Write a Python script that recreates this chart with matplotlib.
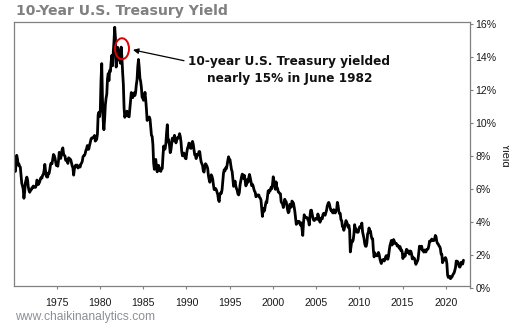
import matplotlib
matplotlib.use("Agg")
import matplotlib.pyplot as plt
from matplotlib.patches import Ellipse
import numpy as np

# ---- data: monthly 10-year U.S. Treasury yield (%) ----
years = list(range(1970, 2023))
monthly_yield = [
    [7.95, 7.30, 7.07, 7.45, 8.05, 7.84, 7.46, 7.53, 7.39, 7.33, 6.84, 6.35],   # 1970
    [6.20, 6.00, 5.45, 5.83, 6.39, 6.55, 6.73, 6.58, 6.14, 5.93, 5.81, 5.93],   # 1971
    [5.95, 6.08, 6.07, 6.19, 6.13, 6.11, 6.11, 6.21, 6.55, 6.48, 6.28, 6.36],   # 1972
    [6.46, 6.64, 6.71, 6.67, 6.85, 6.90, 7.13, 7.50, 7.09, 6.79, 6.73, 6.74],   # 1973
    [6.99, 6.96, 7.21, 7.51, 7.58, 7.54, 7.81, 8.10, 8.04, 7.90, 7.68, 7.43],   # 1974
    [7.50, 7.39, 7.73, 8.23, 8.06, 7.86, 8.06, 8.40, 8.50, 8.14, 8.05, 8.00],   # 1975
    [7.74, 7.79, 7.73, 7.56, 7.90, 7.86, 7.83, 7.77, 7.59, 7.41, 7.29, 6.85],   # 1976
    [7.21, 7.39, 7.46, 7.37, 7.46, 7.28, 7.33, 7.40, 7.34, 7.52, 7.58, 7.69],   # 1977
    [7.96, 8.03, 8.04, 8.15, 8.35, 8.46, 8.64, 8.41, 8.42, 8.64, 8.81, 9.01],   # 1978
    [9.10, 9.10, 9.12, 9.18, 9.25, 8.91, 8.95, 9.03, 9.33, 10.50, 10.65, 10.39], # 1979
    [10.80, 12.60, 13.60, 11.47, 10.18, 9.60, 10.25, 11.10, 11.51, 11.75, 12.68, 13.00], # 1980
    [12.57, 13.19, 13.12, 13.68, 14.10, 13.47, 14.28, 14.94, 15.80, 15.15, 13.39, 13.72], # 1981
    [14.59, 14.43, 13.86, 13.87, 13.62, 14.60, 13.95, 13.06, 12.34, 10.91, 10.35, 10.54], # 1982
    [10.46, 10.72, 10.51, 10.40, 10.38, 10.85, 11.38, 11.85, 11.65, 11.54, 11.69, 11.83], # 1983
    [11.67, 11.84, 12.32, 12.63, 13.41, 13.85, 13.36, 12.72, 12.52, 12.16, 11.57, 11.50], # 1984
    [11.38, 11.51, 11.86, 11.43, 10.85, 10.16, 10.31, 10.33, 10.37, 10.24, 9.78, 9.26],  # 1985
    [9.19, 8.70, 7.60, 7.20, 7.71, 7.80, 7.30, 7.05, 7.45, 7.43, 7.25, 7.11],   # 1986
    [7.08, 7.25, 7.25, 8.02, 8.61, 8.40, 8.45, 8.76, 9.42, 9.90, 8.86, 8.99],   # 1987
    [8.67, 8.21, 8.37, 8.72, 9.09, 8.92, 9.06, 9.26, 8.98, 8.80, 8.96, 9.11],   # 1988
    [9.09, 9.17, 9.36, 9.18, 8.86, 8.28, 8.02, 8.11, 8.19, 8.01, 7.87, 7.84],   # 1989
    [8.21, 8.47, 8.59, 8.79, 8.76, 8.48, 8.47, 8.75, 8.89, 8.72, 8.39, 8.08],   # 1990
    [8.09, 7.85, 8.11, 8.04, 8.07, 8.28, 8.27, 7.90, 7.65, 7.53, 7.42, 7.09],   # 1991
    [7.03, 7.34, 7.54, 7.48, 7.39, 7.26, 6.84, 6.59, 6.42, 6.59, 6.87, 6.77],   # 1992
    [6.60, 6.26, 5.98, 5.97, 6.04, 5.96, 5.81, 5.68, 5.36, 5.25, 5.72, 5.77],   # 1993
    [5.75, 5.97, 6.48, 6.97, 7.18, 7.10, 7.30, 7.24, 7.46, 7.74, 7.96, 7.81],   # 1994
    [7.78, 7.47, 7.20, 7.06, 6.63, 6.17, 6.28, 6.49, 6.20, 6.04, 5.93, 5.71],   # 1995
    [5.65, 5.81, 6.27, 6.51, 6.74, 6.91, 6.87, 6.64, 6.83, 6.53, 6.20, 6.30],   # 1996
    [6.58, 6.42, 6.69, 6.89, 6.71, 6.49, 6.22, 6.30, 6.21, 6.03, 5.88, 5.81],   # 1997
    [5.54, 5.57, 5.65, 5.64, 5.65, 5.50, 5.46, 5.34, 4.81, 4.35, 4.83, 4.65],   # 1998
    [4.72, 5.00, 5.23, 5.18, 5.54, 5.90, 5.79, 5.94, 5.92, 6.11, 6.03, 6.28],   # 1999
    [6.75, 6.52, 6.26, 5.99, 6.44, 6.10, 6.05, 5.83, 5.80, 5.74, 5.72, 5.24],   # 2000
    [5.16, 5.10, 4.89, 5.14, 5.39, 5.28, 5.24, 4.97, 4.73, 4.57, 4.65, 5.09],   # 2001
    [5.04, 4.91, 5.28, 5.21, 5.16, 4.93, 4.65, 4.26, 3.87, 3.94, 4.05, 4.03],   # 2002
    [4.05, 3.90, 3.81, 3.96, 3.57, 3.20, 3.98, 4.45, 4.27, 4.29, 4.30, 4.27],   # 2003
    [4.15, 4.08, 3.83, 4.35, 4.72, 4.73, 4.50, 4.28, 4.13, 4.10, 4.19, 4.23],   # 2004
    [4.22, 4.17, 4.50, 4.34, 4.14, 4.00, 4.18, 4.26, 4.20, 4.46, 4.54, 4.47],   # 2005
    [4.42, 4.57, 4.72, 4.99, 5.11, 5.20, 5.09, 4.88, 4.72, 4.73, 4.60, 4.56],   # 2006
    [4.76, 4.72, 4.56, 4.69, 4.75, 5.20, 5.00, 4.67, 4.52, 4.53, 4.15, 4.10],   # 2007
    [3.74, 3.74, 3.51, 3.68, 3.88, 4.10, 4.01, 3.89, 3.69, 3.81, 3.53, 2.20],   # 2008
    [2.52, 2.87, 2.82, 2.93, 3.29, 3.85, 3.56, 3.59, 3.40, 3.39, 3.40, 3.59],   # 2009
    [3.73, 3.69, 3.73, 3.95, 3.42, 3.20, 3.01, 2.70, 2.55, 2.54, 2.76, 3.29],   # 2010
    [3.39, 3.65, 3.41, 3.46, 3.17, 3.00, 3.00, 2.30, 1.90, 2.15, 2.01, 1.98],   # 2011
    [1.97, 1.97, 2.17, 2.05, 1.80, 1.62, 1.50, 1.68, 1.72, 1.75, 1.65, 1.72],   # 2012
    [1.91, 1.98, 1.96, 1.76, 1.93, 2.30, 2.58, 2.74, 2.90, 2.62, 2.72, 2.95],   # 2013
    [2.86, 2.71, 2.72, 2.71, 2.56, 2.60, 2.54, 2.42, 2.53, 2.30, 2.33, 2.21],   # 2014
    [1.80, 1.98, 2.04, 1.94, 2.20, 2.36, 2.32, 2.17, 2.17, 2.07, 2.26, 2.24],   # 2015
    [2.09, 1.78, 1.89, 1.81, 1.81, 1.64, 1.45, 1.56, 1.63, 1.76, 2.14, 2.55],   # 2016
    [2.43, 2.42, 2.55, 2.30, 2.30, 2.19, 2.32, 2.21, 2.20, 2.36, 2.35, 2.40],   # 2017
    [2.58, 2.86, 2.84, 2.87, 2.98, 2.91, 2.89, 2.89, 3.00, 3.20, 3.12, 2.83],   # 2018
    [2.71, 2.68, 2.57, 2.53, 2.40, 2.07, 2.06, 1.55, 1.70, 1.71, 1.81, 1.86],   # 2019
    [1.76, 1.50, 0.80, 0.66, 0.67, 0.73, 0.58, 0.65, 0.68, 0.79, 0.87, 0.93],   # 2020
    [1.08, 1.26, 1.65, 1.64, 1.62, 1.52, 1.32, 1.28, 1.37, 1.58, 1.56, 1.47],   # 2021
    [1.70],                                                                     # 2022
]

y_ticks = [0, 2, 4, 6, 8, 10, 12, 14, 16]
x_ticks = [1975, 1980, 1985, 1990, 1995, 2000, 2005, 2010, 2015, 2020]

title_text = "10-Year U.S. Treasury Yield"
note_text = "10-year U.S. Treasury yielded\nnearly 15% in June 1982"
note_date, note_yield = 1982.55, 14.5
watermark = "www.chaikinanalytics.com"

# ---- build series ----
dates, vals = [], []
for yr, row in zip(years, monthly_yield):
    for m, v in enumerate(row):
        dates.append(yr + (m + 0.5) / 12.0)
        vals.append(v)

W, H = 510, 325
fig = plt.figure(figsize=(W / 100, H / 100), dpi=100)
fig.patch.set_facecolor("white")

def fx(px):
    return px / W

def fy(py):
    return 1 - py / H

ax = fig.add_axes([fx(14), fy(288.3), fx(470) - fx(14), (288.3 - 22.3) / H])
ax.plot(dates, vals, color="black", lw=2.0, solid_joinstyle="round", solid_capstyle="round")

ax.set_xlim(1970.06, 2022.8)
ax.set_ylim(0, 16.10)

grey = "#808080"
for s in ax.spines.values():
    s.set_color(grey)
    s.set_linewidth(0.9)
ax.spines["bottom"].set_position(("data", 0.16))
ax.spines["left"].set_bounds(0.16, 16.10)

ax.yaxis.tick_right()
ax.set_yticks(y_ticks)
ax.set_yticklabels([f"{t}%" for t in y_ticks])
ax.set_xticks(x_ticks)
ax.set_xticklabels([str(t) for t in x_ticks])
ax.tick_params(axis="y", which="both", right=True, left=False, direction="out",
               length=2.5, width=0.8, color=grey, pad=1.5, labelsize=7.6,
               labelcolor="#1a1a1a")
ax.tick_params(axis="x", direction="out", length=2.5, width=0.8, color=grey,
               pad=6.5, labelsize=7.6, labelcolor="#1a1a1a")
for lab in ax.get_xticklabels() + ax.get_yticklabels():
    lab.set_fontfamily("Liberation Sans")

# red circle around June 1982
ax.add_patch(Ellipse((note_date, note_yield), width=14 / 8.65, height=21 / 16.52,
                     fill=False, edgecolor="#e00000", lw=1.4, zorder=5))

# arrow + note
ax.annotate("", xy=(1983.82, 14.43), xycoords="data",
            xytext=(fx(184), fy(60.7)), textcoords="figure fraction",
            arrowprops=dict(arrowstyle="-|>", color="black", lw=0.9,
                            mutation_scale=8, shrinkA=0, shrinkB=0))
fig.text(fx(289.5), fy(70), note_text, ha="center", va="center",
         fontsize=8.7, fontweight="bold", family="DejaVu Sans", color="#111111",
         linespacing=1.35)

fig.text(fx(16), fy(10.5), title_text, ha="left", va="center", fontsize=10.1,
         fontweight="bold", family="DejaVu Sans", color="#808080")
fig.text(fx(505), fy(155), "Yield", rotation=270, ha="center", va="center",
         fontsize=8, family="Liberation Sans", color="#1a1a1a")
fig.text(fx(15), fy(317), watermark, ha="left", va="center", fontsize=8.7,
         family="Liberation Sans", color="#8c9096")

fig.savefig("out.png", dpi=100, facecolor="white")
